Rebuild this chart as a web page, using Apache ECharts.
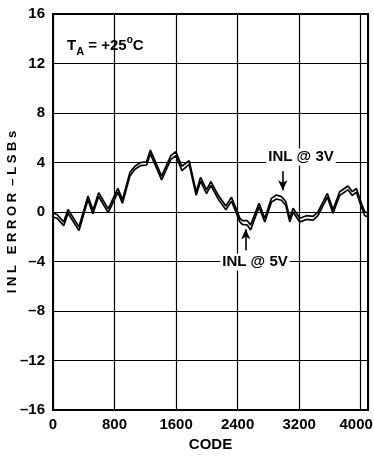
<!DOCTYPE html>
<html><head><meta charset="utf-8">
<script src="https://cdn.jsdelivr.net/npm/echarts@6/dist/echarts.min.js"></script>
<style>html,body{margin:0;padding:0;background:#fff}#c{width:374px;height:461px}</style>
</head><body><div id="c"></div>
<script>
var codes = [0,52,139,195,338,455,519,593,718,844,903,1000,1065,1139,1217,1266,1412,1532,1597,1675,1770,1861,1919,1996,2052,2149,2247,2321,2429,2461,2526,2568,2679,2753,2840,2905,2970,3026,3078,3121,3208,3295,3381,3446,3567,3640,3727,3835,3892,3944,4009,4052,4095];
var inl3V = [-0.1,-0.2,-0.8,0.2,-1.2,1.3,0.15,1.56,0.25,1.9,1.0,3.2,3.7,4.0,4.05,5.0,2.9,4.55,4.87,3.7,4.15,1.64,2.8,1.78,2.45,1.35,0.48,1.19,-0.5,-0.7,-0.7,-1.05,0.7,-0.5,1.1,1.37,1.24,0.85,-0.5,0.3,-0.5,-0.3,-0.35,0.02,1.5,0.2,1.64,2.1,1.64,1.9,0.7,0.02,-0.1];
var inl5V = [-0.4,-0.5,-1.1,-0.1,-1.5,1.0,-0.15,1.25,-0.05,1.6,0.7,2.9,3.45,3.75,3.8,4.7,2.6,4.25,4.55,3.35,3.85,1.35,2.5,1.48,2.15,1.05,0.18,0.88,-0.8,-1.0,-1.05,-1.45,0.4,-0.8,0.8,1.05,0.95,0.55,-0.8,0.0,-0.8,-0.6,-0.65,-0.28,1.2,-0.1,1.34,1.8,1.34,1.6,0.4,-0.28,-0.4];
var xTicks = [0,800,1600,2400,3200,4000];
var yTicks = [-16,-12,-8,-4,0,4,8,12,16];

var FONT = '"Liberation Sans Narrow","Liberation Sans",Arial,sans-serif';
function pairs(xs, ys){ return xs.map(function(x,i){return [x, ys[i]];}); }
var chart = echarts.init(document.getElementById('c'), null, {renderer:'canvas'});
var lbl = {fontFamily:FONT, fontWeight:'bold', fontSize:15, color:'#000'};
var option = {
  animation:false,
  backgroundColor:'#fff',
  grid:{left:53, top:14, right:6, bottom:51, containLabel:false, outerBoundsMode:'none',
    show:true, borderColor:'#000', borderWidth:2, backgroundColor:'transparent'},
  xAxis:{type:'value', min:0, max:4095, interval:800,
    axisLine:{show:false}, axisTick:{show:false},
    splitLine:{show:true, lineStyle:{color:'#000', width:1.2}},
    axisLabel:{color:'#000', fontFamily:FONT, fontWeight:'bold', fontSize:15, margin:7, showMaxLabel:false, hideOverlap:false,
      rich:{n:lbl, r:{fontFamily:FONT, fontWeight:'bold', fontSize:15, color:'#000', padding:[0,9,0,0]}},
      formatter:function(v){ if (xTicks.indexOf(v)<0) return ''; return v===4000 ? '{r|4000}' : '{n|'+v+'}'; }},
    name:'CODE', nameLocation:'middle', nameGap:27, nameMoveOverlap:false,
    nameTextStyle:{color:'#000', fontFamily:FONT, fontWeight:'bold', fontSize:15}
  },
  yAxis:{type:'value', min:-16, max:16, interval:4,
    axisLine:{show:false}, axisTick:{show:false},
    splitLine:{show:true, lineStyle:{color:'#000', width:1.2}},
    axisLabel:{color:'#000', fontFamily:FONT, fontWeight:'bold', fontSize:15, margin:8, hideOverlap:false,
      formatter:function(v){return yTicks.indexOf(v)>=0 ? String(v).replace('-','\u2013') : '';}},
    name:'I N L   E R R O R  \u2013 L S B s', nameLocation:'middle', nameGap:34, nameRotate:90, nameMoveOverlap:false,
    nameTextStyle:{color:'#000', fontFamily:FONT, fontWeight:'bold', fontSize:13}
  },
  series:[
    {name:'INL @ 3V', type:'line', data:pairs(codes, inl3V), showSymbol:false, symbol:'none',
      lineStyle:{color:'#000', width:1.7}, z:5,
      markLine:{silent:true, symbol:['none','arrow'], symbolSize:[7,10],
        lineStyle:{color:'#000', width:1.6, type:'solid'}, label:{show:false},
        data:[[{coord:[2987,3.3]},{coord:[2987,1.75]}]]}
    },
    {name:'INL @ 5V', type:'line', data:pairs(codes, inl5V), showSymbol:false, symbol:'none',
      lineStyle:{color:'#000', width:1.7}, z:5,
      markLine:{silent:true, symbol:['none','arrow'], symbolSize:[7,10],
        lineStyle:{color:'#000', width:1.6, type:'solid'}, label:{show:false},
        data:[[{coord:[2506,-3.1]},{coord:[2506,-1.4]}]]}
    }
  ],
  graphic:[
    {type:'text', left:67, top:35, z:10, style:{
      text:'{m|T}{s|A}{m| = +25}{p|o}{m|C}',
      rich:{
        m:{fontFamily:FONT, fontWeight:'bold', fontSize:15, fill:'#000', verticalAlign:'bottom', lineHeight:18},
        s:{fontFamily:FONT, fontWeight:'bold', fontSize:11, fill:'#000', padding:[0,0,-4,0], verticalAlign:'bottom', lineHeight:18},
        p:{fontFamily:FONT, fontWeight:'bold', fontSize:10, fill:'#000', padding:[0,0,8,0], verticalAlign:'bottom', lineHeight:18}
      }}},
    {type:'text', x:301, y:157, z:10, style:{text:'INL @ 3V', fontFamily:FONT, fontWeight:'bold', fontSize:15, fill:'#000',
      align:'center', verticalAlign:'middle', backgroundColor:'#fff', padding:[1,2]}},
    {type:'text', x:255, y:262, z:10, style:{text:'INL @ 5V', fontFamily:FONT, fontWeight:'bold', fontSize:15, fill:'#000',
      align:'center', verticalAlign:'middle', backgroundColor:'#fff', padding:[1,2]}}
  ]
};
chart.setOption(option);
</script></body></html>
